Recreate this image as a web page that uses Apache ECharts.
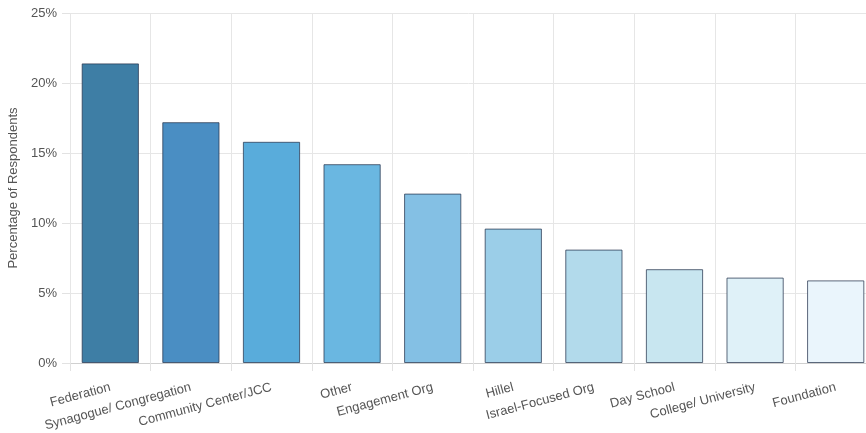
<!DOCTYPE html>
<html>
<head>
<meta charset="utf-8">
<script src="https://cdn.jsdelivr.net/npm/echarts@6/dist/echarts.min.js"></script>
<style>
  html, body { margin: 0; padding: 0; background: #fff; overflow: hidden; }
  #chart { width: 866px; height: 433px; }
</style>
</head>
<body>
<div id="chart"></div>
<script>
// Organization types and share of respondents (%)
const categories = [
  'Federation', 'Synagogue/ Congregation', 'Community Center/JCC', 'Other',
  'Engagement Org', 'Hillel', 'Israel-Focused Org', 'Day School',
  'College/ University', 'Foundation'
];
const percentages = [21.4, 17.2, 15.8, 14.2, 12.1, 9.6, 8.1, 6.7, 6.1, 5.9];
const barColors = [
  '#3e7ea5', '#4a8ec3', '#59acdb', '#6ab7e1', '#84c0e4',
  '#9bcee8', '#b2daeb', '#c8e6f0', '#dff1f8', '#eaf5fc'
];
const yTicks = { min: 0, max: 25, interval: 5 };

const chart = echarts.init(document.getElementById('chart'), null, { renderer: 'canvas' });
const font = '"Liberation Sans", Arial, Helvetica, sans-serif';

chart.setOption({
  animation: false,
  // plot area runs slightly past the right edge of the canvas
  grid: {
    left: 70, width: 806, top: 13, bottom: 70,
    containLabel: false,
    outerBoundsMode: 'none'
  },
  xAxis: {
    type: 'category',
    data: categories,
    boundaryGap: true,
    axisLine: { show: true, lineStyle: { color: '#d0d0d0', width: 1 } },
    axisTick: { show: true, length: 8, alignWithLabel: false, lineStyle: { color: '#e2e2e2' } },
    splitLine: { show: true, lineStyle: { color: '#e6e6e6', width: 1 } },
    axisLabel: {
      interval: 0,
      rotate: 15,
      margin: 24,
      color: '#555',
      fontSize: 13,
      fontFamily: font
    }
  },
  yAxis: {
    type: 'value',
    min: yTicks.min,
    max: yTicks.max,
    interval: yTicks.interval,
    name: 'Percentage of Respondents',
    nameLocation: 'middle',
    nameGap: 42,
    nameTextStyle: { color: '#555', fontSize: 13, fontFamily: font },
    axisLine: { show: false },
    axisTick: { show: true, length: 8, lineStyle: { color: '#e2e2e2' } },
    splitLine: { show: true, lineStyle: { color: '#e6e6e6', width: 1 } },
    axisLabel: {
      formatter: '{value}%',
      margin: 13,
      color: '#555',
      fontSize: 13,
      fontFamily: font
    }
  },
  series: [{
    type: 'bar',
    barCategoryGap: '29%',
    data: percentages.map((v, i) => ({
      value: v,
      itemStyle: { color: barColors[i] }
    })),
    itemStyle: {
      borderColor: 'rgba(40, 55, 80, 0.75)',
      borderWidth: 1
    }
  }]
});
</script>
</body>
</html>
